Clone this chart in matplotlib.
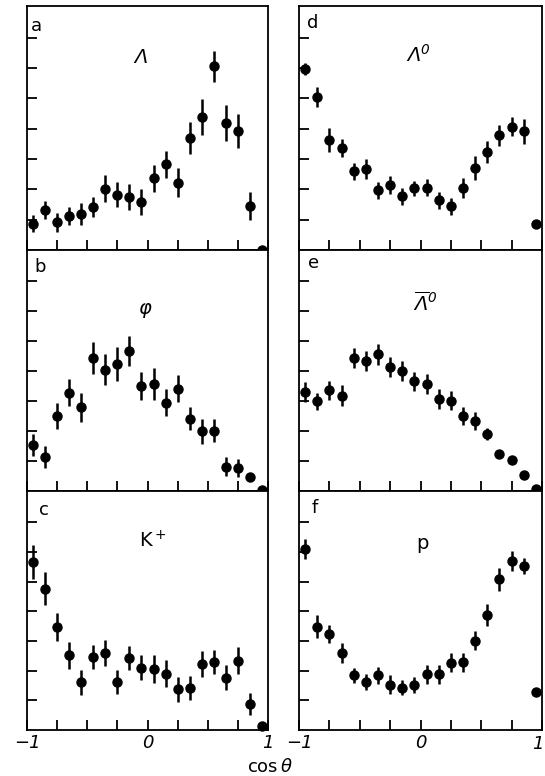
import numpy as np
import matplotlib.pyplot as plt

# bin centres in cos(theta), 20 bins of width 0.1
cos_bins = np.arange(-0.95, 1.0, 0.1)

# a: Lambda
lam_y = [0.87, 1.33, 0.91, 1.11, 1.19, 1.41, 2.02, 1.83, 1.76, 1.59,
         2.37, 2.83, 2.22, 3.69, 4.39, 6.06, 4.19, 3.94, 1.44, 0.0]
lam_err = [0.28, 0.30, 0.30, 0.30, 0.37, 0.33, 0.44, 0.40, 0.43, 0.43,
           0.44, 0.44, 0.48, 0.53, 0.58, 0.52, 0.59, 0.56, 0.46, 0.0]

# b: phi
phi_y = [1.55, 1.14, 2.51, 3.29, 2.79, 4.44, 4.05, 4.24, 4.68, 3.51,
         3.58, 2.95, 3.42, 2.41, 1.99, 2.02, 0.81, 0.78, 0.48, 0.04]
phi_err = [0.37, 0.37, 0.43, 0.44, 0.48, 0.53, 0.51, 0.58, 0.49, 0.48,
           0.53, 0.46, 0.46, 0.38, 0.41, 0.37, 0.31, 0.30, 0.0, 0.0]

# c: K+
kp_y = [5.66, 4.76, 3.48, 2.51, 1.60, 2.46, 2.60, 1.62, 2.43, 2.10,
        2.04, 1.90, 1.37, 1.42, 2.23, 2.29, 1.76, 2.34, 0.87, 0.12]
kp_err = [0.58, 0.56, 0.47, 0.47, 0.43, 0.41, 0.43, 0.41, 0.41, 0.42,
          0.47, 0.46, 0.42, 0.41, 0.43, 0.42, 0.42, 0.47, 0.37, 0.0]

# d: Lambda0
lam0_y = [5.97, 5.06, 3.63, 3.37, 2.59, 2.67, 1.97, 2.14, 1.78, 2.03,
          2.06, 1.64, 1.44, 2.03, 2.70, 3.23, 3.78, 4.07, 3.92, 0.87]
lam0_err = [0.20, 0.33, 0.39, 0.30, 0.29, 0.33, 0.28, 0.29, 0.28, 0.25,
            0.28, 0.28, 0.28, 0.33, 0.40, 0.36, 0.34, 0.32, 0.41, 0.0]

# e: anti-Lambda0
alam0_y = [3.31, 3.00, 3.36, 3.18, 4.44, 4.35, 4.57, 4.13, 4.02, 3.66,
           3.58, 3.07, 3.01, 2.52, 2.35, 1.91, 1.25, 1.02, 0.53, 0.07]
alam0_err = [0.33, 0.29, 0.33, 0.35, 0.33, 0.34, 0.35, 0.33, 0.33, 0.32,
             0.33, 0.33, 0.32, 0.30, 0.30, 0.20, 0.0, 0.0, 0.0, 0.0]

# f: proton
p_y = [6.10, 3.48, 3.23, 2.60, 1.84, 1.62, 1.84, 1.53, 1.42, 1.51,
       1.87, 1.87, 2.27, 2.29, 3.01, 3.87, 5.07, 5.70, 5.53, 1.27]
p_err = [0.34, 0.39, 0.30, 0.34, 0.26, 0.28, 0.28, 0.32, 0.25, 0.26,
         0.33, 0.33, 0.32, 0.32, 0.31, 0.36, 0.39, 0.33, 0.28, 0.0]

# slanted greek capitals and digits inside math text
plt.rcParams["mathtext.fontset"] = "custom"
plt.rcParams["mathtext.rm"] = "DejaVu Sans:italic"
plt.rcParams["mathtext.it"] = "DejaVu Sans:italic"

panels = [
    # letter, particle label, y, err, column, row
    ("a", r"$\Lambda$", lam_y, lam_err, 0, 0),
    ("b", r"$\varphi$", phi_y, phi_err, 0, 1),
    ("c", r"K$^+$", kp_y, kp_err, 0, 2),
    ("d", r"$\Lambda^0$", lam0_y, lam0_err, 1, 0),
    ("e", r"$\overline{\Lambda}^0$", alam0_y, alam0_err, 1, 1),
    ("f", "p", p_y, p_err, 1, 2),
]

W, H = 545, 776
fig = plt.figure(figsize=(W / 100, H / 100), dpi=100)

col_x = [(27, 268), (299, 542)]
row_y = [(6, 250), (250, 491), (491, 730)]
label_pos = {"a": (0.04, 0.92), "b": (0.054, 0.93), "c": (0.07, 0.92),
             "d": (0.058, 0.93), "e": (0.058, 0.945), "f": (0.066, 0.93)}
name_pos = {"a": (0.47, 0.79), "b": (0.49, 0.75), "c": (0.52, 0.79),
            "d": (0.49, 0.80), "e": (0.52, 0.78), "f": (0.507, 0.78)}

for letter, name, y, err, col, row in panels:
    x0, x1 = col_x[col]
    yt, yb = row_y[row]
    ax = fig.add_axes([x0 / W, 1 - yb / H, (x1 - x0) / W, (yb - yt) / H])
    ax.errorbar(cos_bins, y, yerr=err, fmt="o", color="black",
                markersize=6.5, elinewidth=1.8, capsize=0, clip_on=False)
    ax.set_xlim(-1, 1)
    ax.set_ylim(0, 8.05)
    ax.set_xticks(np.arange(-1, 1.01, 0.25))
    if row == 2:
        last = "1" if col == 0 else ""
        ax.set_xticklabels(["\u22121", "", "", "", "0", "", "", "", last],
                           fontsize=13, style="italic")
        if col == 1:
            # right-aligned so it stays inside the figure
            ax.annotate("1", xy=(1, 0), xycoords=("data", "axes fraction"),
                        xytext=(1, -3.5), textcoords="offset points",
                        ha="right", va="top", fontsize=13, style="italic")
    else:
        ax.set_xticklabels([])
    ax.set_yticks(range(1, 8))
    ax.set_yticklabels([])
    ax.tick_params(direction="in", length=7.5, width=1.3, top=False, right=False)
    ax.tick_params(axis="x", pad=3)
    for s in ax.spines.values():
        s.set_linewidth(1.3)
    ax.text(*label_pos[letter], letter, transform=ax.transAxes, fontsize=13,
            ha="center", va="center")
    ax.text(*name_pos[letter], name, transform=ax.transAxes, fontsize=14,
            ha="center", va="center")

fig.text(270 / W, 1 - 767 / H, r"cos$\,\theta$", fontsize=13,
         ha="center", va="center")

fig.savefig("out.png", dpi=100)
